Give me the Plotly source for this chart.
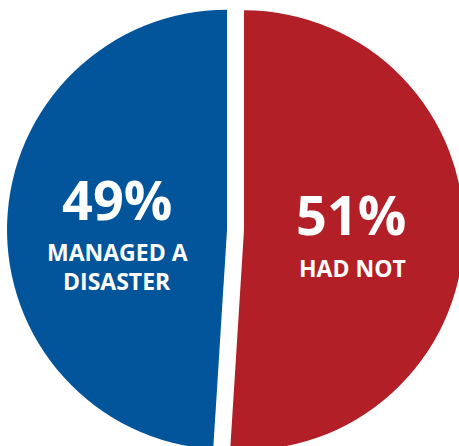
import plotly.graph_objects as go

labels = ["HAD NOT", "MANAGED A<br>DISASTER"]
values = [51, 49]
colors = ["#B21F26", "#02549B"]
pct_text = ["51%", "49%"]
sub_lines = [["HAD NOT"], ["MANAGED A", "DISASTER"]]

W, H = 471, 460

fig = go.Figure(go.Pie(
    labels=labels,
    values=values,
    sort=False,
    direction="clockwise",
    rotation=0,
    marker=dict(colors=colors, line=dict(width=0)),
    pull=[0.0386, 0.0386],
    textinfo="none",
    hoverinfo="none",
    showlegend=False,
    domain=dict(x=[7 / W, 464 / W], y=[0, 1]),
))

# label positions (pixels) for the text blocks
pct_pos = [(351, 214.5), (117, 199)]
sub_pos = [[(352, 267.5)], [(117, 251.5), (117, 281)]]

annotations = []
for i in range(len(values)):
    px, py = pct_pos[i]
    annotations.append(dict(
        x=px / W, y=1 - py / H, xref="paper", yref="paper",
        text=pct_text[i], showarrow=False, xanchor="center", yanchor="middle",
        font=dict(family="Open Sans", size=54, color="white", weight="bold"),
    ))
    for line, (lx, ly) in zip(sub_lines[i], sub_pos[i]):
        annotations.append(dict(
            x=lx / W, y=1 - ly / H, xref="paper", yref="paper",
            text=line, showarrow=False, xanchor="center", yanchor="middle",
            font=dict(family="Open Sans", size=23, color="white", weight="bold"),
        ))

fig.update_layout(
    width=W, height=H,
    margin=dict(l=0, r=0, t=0, b=0),
    paper_bgcolor="white",
    plot_bgcolor="white",
    annotations=annotations,
)

fig.write_html(
    "out.html",
    config={"displayModeBar": False},
    post_script="document.body.style.margin='0';document.body.style.overflow='hidden';document.documentElement.style.overflow='hidden';",
)
